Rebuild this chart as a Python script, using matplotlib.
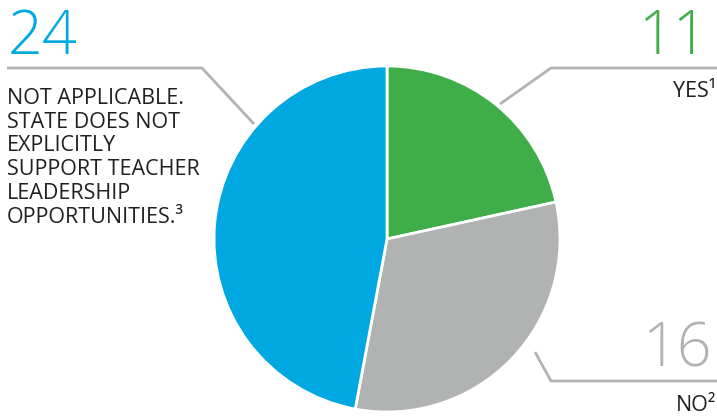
import matplotlib.pyplot as plt

# Data
labels = ['YES\u00b9', 'NO\u00b2', 'NOT APPLICABLE.\nSTATE DOES NOT\nEXPLICITLY\nSUPPORT TEACHER\nLEADERSHIP\nOPPORTUNITIES.\u00b3']
values = [11, 16, 24]
colors = ['#3fae49', '#b1b3b3', '#00a8e1']

plt.rcParams['font.family'] = ['Open Sans', 'DejaVu Sans']

fig = plt.figure(figsize=(7.17, 4.19), dpi=100)
ax = fig.add_axes([0, 0, 1, 1])

# pie drawn in pixel-like data coordinates (y axis inverted, so angles flipped)
ax.pie(values, colors=colors, startangle=-90, counterclock=True,
       center=(387, 239), radius=173,
       wedgeprops=dict(edgecolor='white', linewidth=2))
ax.set_xlim(0, 717)
ax.set_ylim(419, 0)
ax.set_aspect('auto')
ax.axis('off')

line_kw = dict(color='#b0b4b4', lw=2, solid_capstyle='butt')
# leader lines
ax.plot([7, 202, 254], [68, 68, 124], **line_kw)
ax.plot([500, 551, 717], [104, 68, 68], **line_kw)
ax.plot([535, 551, 717], [352, 381, 381], **line_kw)

big = dict(fontsize=44, fontweight='light')
ax.text(8, 54, str(values[2]), color=colors[2], ha='left', va='baseline', **big)
ax.text(708, 54, str(values[0]), color=colors[0], ha='right', va='baseline', **big)
ax.text(712, 366, str(values[1]), color=colors[1], ha='right', va='baseline', **big)

small = dict(fontsize=15.5, color='#231f20')
ax.text(716, 97, labels[0], ha='right', va='baseline', **small)
ax.text(716, 411, labels[1], ha='right', va='baseline', **small)
ax.text(7, 88, labels[2], ha='left', va='top', linespacing=1.17, **small)

fig.savefig('out.png', dpi=100)
